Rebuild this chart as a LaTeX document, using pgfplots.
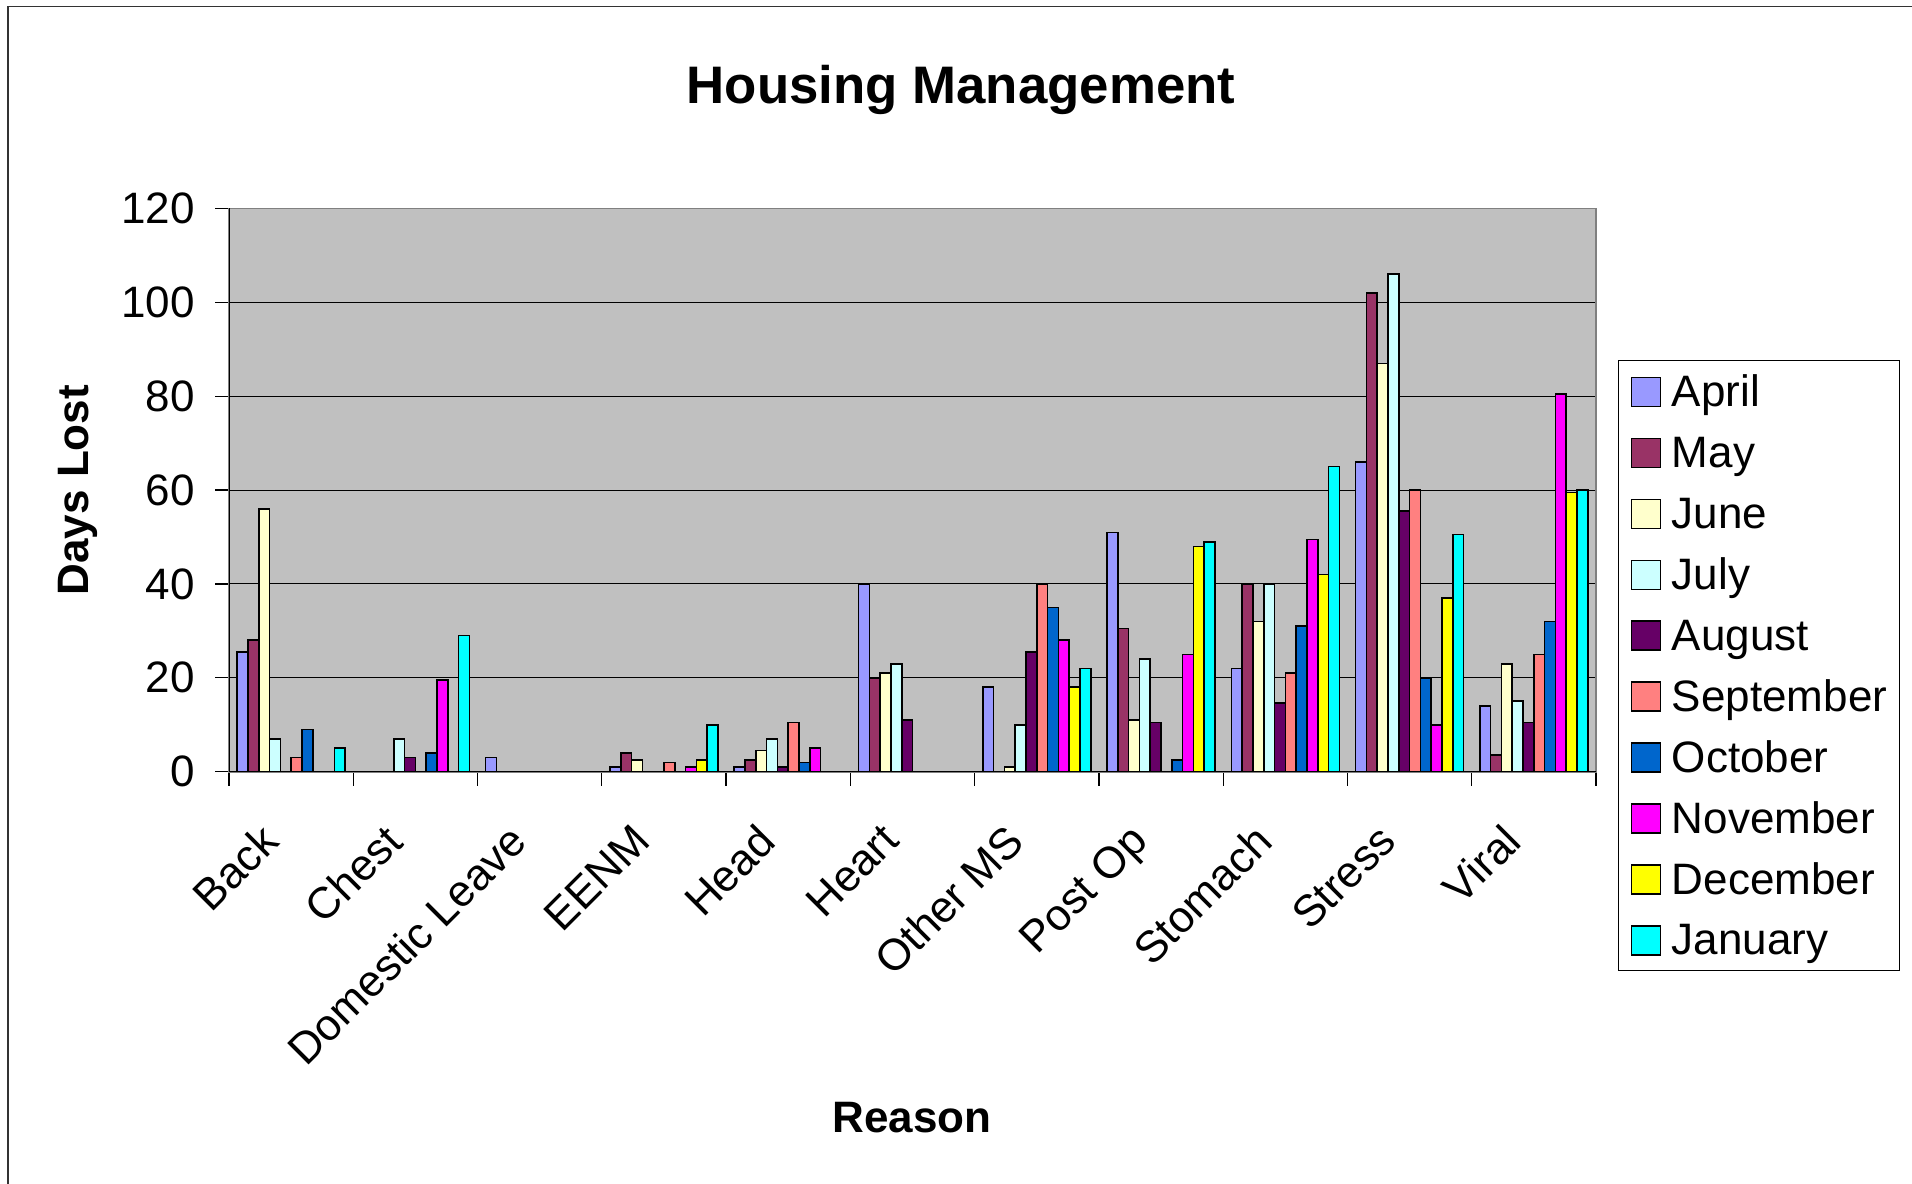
\documentclass[border=0pt]{standalone}
\usepackage{pgfplots}
\pgfplotsset{compat=1.18}
\usepackage{fontspec}
\setmainfont{Liberation Sans}

% month colours (classic spreadsheet palette)
\definecolor{cApr}{HTML}{9999FF}
\definecolor{cMay}{HTML}{993366}
\definecolor{cJun}{HTML}{FFFFCC}
\definecolor{cJul}{HTML}{CCFFFF}
\definecolor{cAug}{HTML}{660066}
\definecolor{cSep}{HTML}{FF8080}
\definecolor{cOct}{HTML}{0066CC}
\definecolor{cNov}{HTML}{FF00FF}
\definecolor{cDec}{HTML}{FFFF00}
\definecolor{cJan}{HTML}{00FFFF}
\definecolor{plotbg}{HTML}{C0C0C0}
\definecolor{framegray}{HTML}{808080}

\newcommand{\lbl}{\fontsize{22bp}{26bp}\selectfont}

\pgfplotsset{
  monthbar/.style={fill=#1, draw=black, line width=0.8bp,
    legend image code/.code={\draw[fill=#1, draw=black, line width=0.8bp]
      (0bp,-7.9bp) rectangle (14.5bp,6.6bp);}},
}

\begin{document}
\begin{tikzpicture}
\useasboundingbox (0,0) rectangle (956bp,592bp);
\fill[white] (0,0) rectangle (956bp,592bp);
\draw[black!80, line width=0.6bp] (4bp,0) -- (4bp,588.7bp) -- (956bp,588.7bp);
\node[font=\fontsize{26.4bp}{30bp}\selectfont\bfseries, anchor=base] at (480.5bp,540.25bp) {Housing Management};

\begin{axis}[
  at={(114.5bp,206.15bp)}, anchor=south west,
  scale only axis, width=683.5bp, height=281.6bp,
  ybar=0pt, bar width=5.4bp,
  xmin=-0.5, xmax=10.5, ymin=0, ymax=120,
  xtick={0,...,10},
  xticklabels={Back,Chest,Domestic Leave,EENM,Head,Heart,Other MS,Post Op,Stomach,Stress,Viral},
  minor xtick={-0.5,0.5,...,10.5},
  ytick={0,20,...,120},
  tick align=outside, tick pos=left,
  major tick length=7bp, minor tick length=7bp,
  every major x tick/.append style={draw=none},
  tick style={black, line width=0.6bp},
  ymajorgrids, grid style={black, line width=0.5bp},
  axis background/.style={fill=plotbg},
  axis line style={framegray, line width=0.8bp},
  tick label style={font=\lbl},
  /pgf/number format/assume math mode=true,
  xticklabel style={xshift=-16.5bp, yshift=-17.8bp, rotate=45, anchor=north east, inner sep=0pt},
  yticklabel style={anchor=east, inner sep=0pt, xshift=-10bp},
  xlabel={Reason}, ylabel={Days Lost},
  xlabel style={at={(axis description cs:0.4996,-0.615)}, anchor=center, font=\lbl\bfseries},
  ylabel style={at={(axis description cs:-0.1105,0.5)}, anchor=center, font=\lbl\bfseries},
  legend style={at={(1.0161,0.731)}, anchor=north west, draw=black, line width=0.5bp,
    font=\lbl, inner xsep=6bp, inner ysep=7.2bp, row sep=14.3bp,
    nodes={inner sep=0pt, text height=15.75bp, text depth=0bp},
    /tikz/every odd column/.append style={column sep=5.4bp}},
  legend cell align=left,
]
% categories: 0 Back, 1 Chest, 2 Domestic Leave, 3 EENM, 4 Head, 5 Heart,
% 6 Other MS, 7 Post Op, 8 Stomach, 9 Stress, 10 Viral (zero values left out)
\addplot[monthbar=cApr] coordinates {(0,25.5) (2,3) (3,1) (4,1) (5,40) (6,18) (7,51) (8,22) (9,66) (10,14)};
\addplot[monthbar=cMay] coordinates {(0,28) (3,4) (4,2.5) (5,20) (7,30.5) (8,40) (9,102) (10,3.5)};
\addplot[monthbar=cJun] coordinates {(0,56) (3,2.5) (4,4.5) (5,21) (6,1) (7,11) (8,32) (9,87) (10,23)};
\addplot[monthbar=cJul] coordinates {(0,7) (1,7) (4,7) (5,23) (6,10) (7,24) (8,40) (9,106) (10,15)};
\addplot[monthbar=cAug] coordinates {(1,3) (4,1) (5,11) (6,25.5) (7,10.5) (8,14.7) (9,55.5) (10,10.5)};
\addplot[monthbar=cSep] coordinates {(0,3) (3,2) (4,10.5) (6,40) (8,21) (9,60) (10,25)};
\addplot[monthbar=cOct] coordinates {(0,9) (1,4) (4,2) (6,35) (7,2.5) (8,31) (9,20) (10,32)};
\addplot[monthbar=cNov] coordinates {(1,19.5) (3,1) (4,5) (6,28) (7,25) (8,49.5) (9,10) (10,80.5)};
\addplot[monthbar=cDec] coordinates {(3,2.5) (6,18) (7,48) (8,42) (9,37) (10,59.5)};
\addplot[monthbar=cJan] coordinates {(0,5) (1,29) (3,10) (6,22) (7,49) (8,65) (9,50.5) (10,60)};
\legend{April,May,June,July,August,September,October,November,December,January}
\draw[black, line width=0.6bp] (rel axis cs:0,1) -- (rel axis cs:0,0) -- (rel axis cs:1,0);
\end{axis}
\end{tikzpicture}
\end{document}
